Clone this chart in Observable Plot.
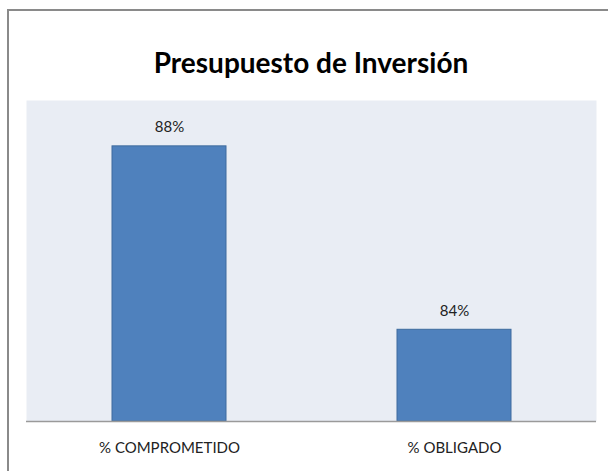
<!DOCTYPE html>
<html>
<head>
<meta charset="utf-8">
<script src="https://cdn.jsdelivr.net/npm/d3@7"></script>
<script src="https://cdn.jsdelivr.net/npm/@observablehq/plot@0.6"></script>
<style>
  html, body { margin: 0; padding: 0; background: #fff; }
  body { width: 608px; height: 471px; position: relative; overflow: hidden;
         font-family: Lato, "DejaVu Sans Condensed", sans-serif; }
  #frame { position: absolute; left: 7px; top: 9px; width: 640px; height: 500px;
           border-left: 2px solid #8a8a8a; border-top: 2px solid #8a8a8a; }
  #title { position: absolute; left: 0; width: 622px; top: 44px; text-align: center;
           font-size: 28px; font-weight: bold; color: #000; line-height: 36px; }
  #chart { position: absolute; left: 0; top: 0; }
</style>
</head>
<body>
<div id="frame"></div>
<div id="title">Presupuesto de Inversión</div>
<div id="chart"></div>
<script>
const categories = ["% COMPROMETIDO", "% OBLIGADO"];
const values = [88, 84];
const labels = ["88%", "84%"];
const yMin = 82, yMax = 89;

const data = categories.map((c, i) => ({cat: c, value: values[i], label: labels[i]}));

const chart = Plot.plot({
  width: 608,
  height: 471,
  marginLeft: 26,
  marginRight: 12,
  marginTop: 100,
  marginBottom: 50,
  style: {fontFamily: 'Lato, "DejaVu Sans Condensed", sans-serif', background: "transparent"},
  x: {domain: categories, paddingInner: 0.6, paddingOuter: 0.3, label: null},
  y: {domain: [yMin, yMax], axis: null},
  marks: [
    Plot.frame({fill: "#e9edf4", stroke: null}),
    Plot.barY(data, {x: "cat", y1: () => yMin, y2: "value", fill: "#4f81bd", stroke: "#3e6b9e", strokeWidth: 1}),
    Plot.ruleY([yMin], {stroke: "#9a9a9a", strokeWidth: 1.5}),
    Plot.text(data, {x: "cat", y: "value", text: "label", dy: -19, fontSize: 15, fill: "#222"}),
    Plot.axisX({tickSize: 0, tickPadding: 21, fontSize: 15, fill: "#222", label: null})
  ]
});
document.getElementById("chart").appendChild(chart);
</script>
</body>
</html>
